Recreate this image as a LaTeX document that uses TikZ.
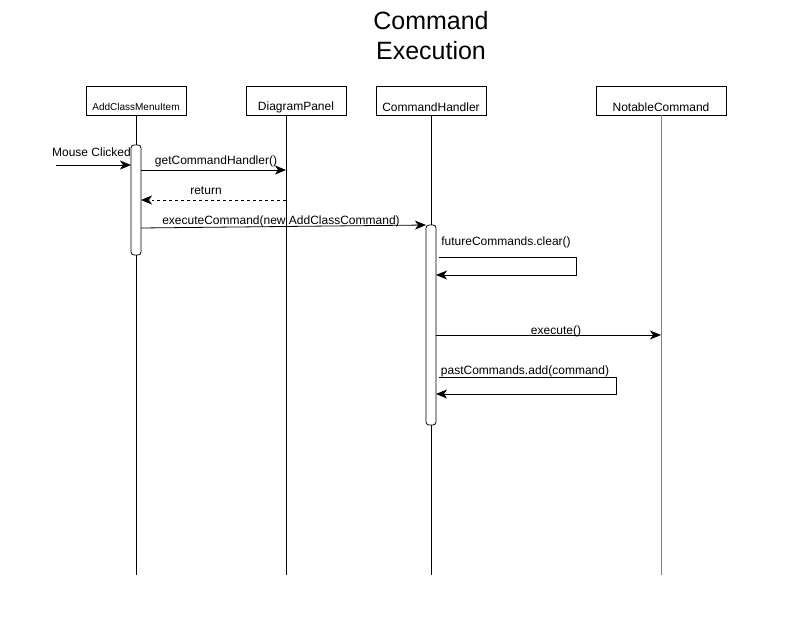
\documentclass[tikz,border=0pt]{standalone}
\usepackage{fontspec}
\setmainfont{Liberation Sans}
\usetikzlibrary{arrows.meta}
\begin{document}
\begin{tikzpicture}[x=1bp,y=-1bp,
  actor/.style={draw,line width=0.8pt,minimum width=100bp,minimum height=29bp,inner sep=0pt},
  alabel/.style={font=\fontsize{12bp}{14bp}\selectfont,yshift=-6.5bp},
  life/.style={line width=0.8pt},
  act/.style={draw,fill=white,rounded corners=3bp,line width=0.8pt},
  msg/.style={line width=0.8pt,-{Stealth[length=11bp,width=9bp,inset=3bp]}},
  lbl/.style={font=\fontsize{12bp}{14bp}\selectfont,inner sep=0pt}]
\useasboundingbox (0,0) rectangle (800,626);
\node[font=\fontsize{25bp}{30bp}\selectfont,align=center] (title) at (431,36) {Command\\Execution};
% actors
\node[actor,label={[alabel,font=\fontsize{10bp}{12bp}\selectfont]center:AddClassMenuItem}] (a) at (136,100.5) {};
\node[actor,label={[alabel]center:DiagramPanel}] (d) at (296,100.5) {};
\node[actor,minimum width=110bp,label={[alabel]center:CommandHandler}] (c) at (431,100.5) {};
\node[actor,minimum width=130bp,label={[alabel]center:NotableCommand}] (n) at (661,100.5) {};
\coordinate (aend) at (136,575);
\coordinate (dend) at (286,575);
\coordinate (cend) at (431,575);
\coordinate (nend) at (661,575);
\draw[life] (a.south) -- (aend);
\draw[life] (286,115) coordinate (dtop) -- (dend);
\draw[life] (c.south) -- (cend);
\draw[life,draw=gray] (n.south) -- (nend);
% activations
\draw[act] (131,145) rectangle (141,255);
\draw[act] (426,225) rectangle (436,425);
% messages
\coordinate (m0) at (56,165);
\coordinate (m0e) at (131,165);
\draw[msg] (m0) -- (m0e);
\node[lbl] (l0) at (91.5,152) {Mouse Clicked};
\coordinate (m1s) at (141,170);
\coordinate (m1e) at (286,170);
\draw[msg] (m1s) -- (m1e);
\node[lbl] (l1) at (216,161) {getCommandHandler()};
\coordinate (m2s) at (286,200);
\coordinate (m2e) at (141,200);
\draw[msg,dashed] (m2s) -- (m2e);
\node[lbl] (l2) at (206,191) {return};
\coordinate (m3s) at (141,228);
\coordinate (m3e) at (426,225);
\draw[msg] (m3s) -- (m3e);
\node[lbl] (l3) at (281,221) {executeCommand(new AddClassCommand)};
\coordinate (s1) at (439,257);
\coordinate (s1e) at (436,275);
\draw[msg] (s1) -- (576,257) -- (576,275) -- (s1e);
\node[lbl] (l4) at (506,242) {futureCommands.clear()};
\coordinate (m4s) at (436,335);
\coordinate (m4e) at (661,335);
\draw[msg] (m4s) -- (m4e);
\node[lbl] (l5) at (556,331) {execute()};
\coordinate (s2) at (439,377);
\coordinate (s2e) at (436,394);
\draw[msg] (s2) -- (616,377) -- (616,394) -- (s2e);
\node[lbl] (l6) at (525,371) {pastCommands.add(command)};
\end{tikzpicture}
\end{document}
